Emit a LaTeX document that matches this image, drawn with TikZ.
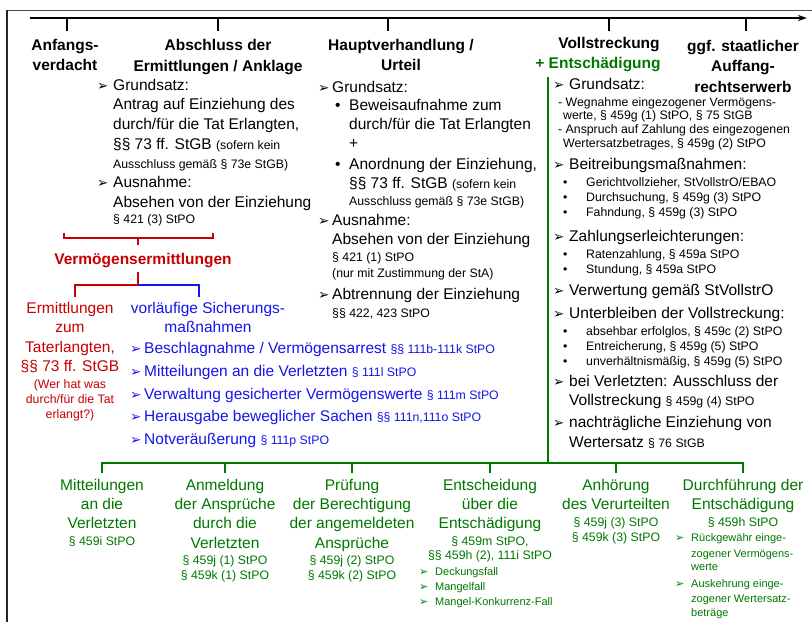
\documentclass[tikz,border=0pt]{standalone}
\usepackage{fontspec}
\setmainfont{Liberation Sans}
\newfontfamily\symfont{DejaVu Sans}
\usetikzlibrary{arrows.meta, positioning}

\definecolor{vermred}{RGB}{200, 0, 0}
\definecolor{vermblue}{RGB}{20, 20, 235}
\definecolor{vollgreen}{RGB}{0, 120, 0}

\newcommand{\fbig}{\fontsize{15.5}{19}\selectfont}
\newcommand{\fsm}{\fontsize{12.3}{15}\selectfont}
\newcommand{\fxs}{\fontsize{11}{13}\selectfont}
\newcommand{\pf}[1][16pt]{\makebox[#1][l]{\symfont\fontsize{13.5}{14}\selectfont ➢}}
\newcommand{\spf}{\makebox[16pt][l]{\symfont\fontsize{11}{11}\selectfont ➢}}
\newcommand{\bu}[1]{\makebox[#1][l]{•}}

\begin{document}
\begin{tikzpicture}[x=1pt, y=-1pt,
    txt/.style={font=\fbig, anchor=mid west, inner sep=0pt},
    ctr/.style={font=\fbig, anchor=mid, inner sep=0pt},
    head/.style={font=\fontsize{15.5}{20.5}\selectfont\bfseries, align=center, inner sep=0pt},
    tline/.style={line width=1.6pt},
    rline/.style={vermred, line width=1.6pt},
    bline/.style={vermblue, line width=1.6pt},
    gline/.style={vollgreen, line width=1.6pt},
  ]
  \useasboundingbox (0,0) rectangle (812,622);
  \draw[black!70, line width=1.2pt] (7,10.5) -- (812,10.5);
  \draw[black!85, line width=2pt] (6.5,10) -- (6.5,622);

  % Zeitstrahl
  \coordinate (zs) at (30,18);
  \coordinate (ze) at (807,18);
  \draw[tline, -{Stealth[length=9pt, width=6pt]}] (zs) -- (ze);
  \foreach \x in {67,218,388,609,746}
    \draw[tline] (\x,18) -- (\x,31);

  \node[head] (h1) at (65,55) {Anfangs-\\verdacht};
  \node[head] (h2) at (218,57) {Abschluss der\\Ermittlungen / Anklage};
  \node[head] (h3) at (401,55) {Hauptverhandlung /\\Urteil};
  \node[head] (h4) at (609,45) {Vollstreckung};
  \node[head, vollgreen] (h4b) at (598,65) {+ Entschädigung};
  \node[head] (h5) at (743,66) {ggf. staatlicher\\Auffang-\\rechtserwerb};

  % Abschluss der Ermittlungen
  \foreach \x/\y/\lbl [count=\i] in {
      97/88/{\pf Grundsatz:},
      113/107/{Antrag auf Einziehung des},
      113/127/{durch/für die Tat Erlangten,},
      113/147/{§§ 73 ff. StGB {\fsm (sofern kein}},
      113/166/{\fsm Ausschluss gemäß § 73e StGB)},
      97/185/{\pf Ausnahme:},
      113/205/{Absehen von der Einziehung},
      113/221/{\fsm § 421 (3) StPO}}
    \node[txt] (ab\i) at (\x,\y) {\lbl};

  % Hauptverhandlung
  \foreach \x/\y/\lbl [count=\i] in {
      318/90/{\pf[14pt]Grundsatz:},
      335/108/{\bu{14pt}Beweisaufnahme zum},
      349/127/{durch/für die Tat Erlangten},
      349/146/{+},
      335/167/{\bu{14pt}Anordnung der Einziehung,},
      349/186/{§§ 73 ff. StGB {\fsm (sofern kein}},
      349/203/{\fsm Ausschluss gemäß § 73e StGB)},
      318/223/{\pf[14pt]Ausnahme:},
      332/242/{Absehen von der Einziehung},
      332/259/{\fsm § 421 (1) StPO},
      332/275/{\fsm (nur mit Zustimmung der StA)},
      318/297/{\pf[14pt]Abtrennung der Einziehung},
      332/315/{\fsm §§ 422, 423 StPO}}
    \node[txt] (hv\i) at (\x,\y) {\lbl};

  % Vollstreckung
  \foreach \x/\y/\lbl [count=\i] in {
      553/87/{\pf Grundsatz:},
      558/104/{\fsm - Wegnahme eingezogener Vermögens-},
      563/117/{\fsm werte, § 459g (1) StPO, § 75 StGB},
      558/131/{\fsm - Anspruch auf Zahlung des eingezogenen},
      563/145/{\fsm Wertersatzbetrages, § 459g (2) StPO},
      553/167/{\pf Beitreibungsmaßnahmen:},
      563/184/{\fsm\bu{23pt}Gerichtvollzieher, StVollstrO/EBAO},
      563/199/{\fsm\bu{23pt}Durchsuchung, § 459g (3) StPO},
      563/214/{\fsm\bu{23pt}Fahndung, § 459g (3) StPO},
      553/239/{\pf Zahlungserleichterungen:},
      563/256/{\fsm\bu{23pt}Ratenzahlung, § 459a StPO},
      563/271/{\fsm\bu{23pt}Stundung, § 459a StPO},
      553/293/{\pf Verwertung gemäß StVollstrO},
      553/316/{\pf Unterbleiben der Vollstreckung:},
      563/333/{\fsm\bu{23pt}absehbar erfolglos, § 459c (2) StPO},
      563/348/{\fsm\bu{23pt}Entreicherung, § 459g (5) StPO},
      563/363/{\fsm\bu{23pt}unverhältnismäßig, § 459g (5) StPO},
      553/384/{\pf bei Verletzten: Ausschluss der},
      569/403/{Vollstreckung {\fsm § 459g (4) StPO}},
      553/425/{\pf nachträgliche Einziehung von},
      569/445/{Wertersatz {\fsm § 76 StGB}}}
    \node[txt] (vs\i) at (\x,\y) {\lbl};

  % Vermoegensermittlungen
  \coordinate (brl) at (64,233);
  \coordinate (brr) at (213,233);
  \coordinate (brm) at (138,238);
  \draw[rline] (brl) |- (brm) -| (brr);
  \draw[rline] (brm) -- ++(0,7);
  \node[head, vermred] (verm) at (143,261) {Vermögensermittlungen};
  \coordinate (vk) at (138,285);
  \draw[rline] (138,272) -- (vk) -- (75,285) -- (75,297);
  \draw[bline] (vk) -- (199,285) -- (199,297);

  \foreach \y/\lbl [count=\i] in {
      311/{Ermittlungen}, 330/{zum}, 350/{Taterlangten,},
      369/{§§ 73 ff. StGB}, 386/{\fsm (Wer hat was},
      401/{\fsm durch/für die Tat}, 416/{\fsm erlangt?)}}
    \node[ctr, vermred] (er\i) at (70,\y) {\lbl};

  \node[ctr, vermblue] (si1) at (208,311) {vorläufige Sicherungs-};
  \node[ctr, vermblue] (si2) at (208,330) {maßnahmen};
  \foreach \y/\lbl [count=\i] in {
      351/{Beschlagnahme / Vermögensarrest {\fsm §§ 111b-111k StPO}},
      374/{Mitteilungen an die Verletzten {\fsm § 111l StPO}},
      397/{Verwaltung gesicherter Vermögenswerte {\fsm § 111m StPO}},
      419/{Herausgabe beweglicher Sachen {\fsm §§ 111n,111o StPO}},
      442/{Notveräußerung {\fsm § 111p StPO}}}
    \node[txt, vermblue] (sm\i) at (130,\y) {\pf[14pt]\lbl};

  % Entschaedigung
  \foreach \y/\lbl [count=\i] in {
      488/{Mitteilungen}, 507/{an die}, 526/{Verletzten}, 543/{\fsm § 459i StPO}}
    \node[ctr, vollgreen] (b1-\i) at (102,\y) {\lbl};
  \foreach \y/\lbl [count=\i] in {
      488/{Anmeldung}, 507/{der Ansprüche}, 526/{durch die}, 546/{Verletzten},
      562/{\fsm § 459j (1) StPO}, 577/{\fsm § 459k (1) StPO}}
    \node[ctr, vollgreen] (b2-\i) at (225,\y) {\lbl};
  \foreach \y/\lbl [count=\i] in {
      488/{Prüfung}, 507/{der Berechtigung}, 526/{der angemeldeten}, 546/{Ansprüche},
      562/{\fsm § 459j (2) StPO}, 577/{\fsm § 459k (2) StPO}}
    \node[ctr, vollgreen] (b3-\i) at (352,\y) {\lbl};
  \foreach \y/\lbl [count=\i] in {
      488/{Entscheidung}, 507/{über die}, 526/{Entschädigung},
      543/{\fsm § 459m StPO,}, 557/{\fsm §§ 459h (2), 111i StPO}}
    \node[ctr, vollgreen] (b4-\i) at (490,\y) {\lbl};
  \foreach \y/\lbl [count=\i] in {
      573/{Deckungsfall}, 588/{Mangelfall}, 603/{Mangel-Konkurrenz-Fall}}
    \node[txt, vollgreen] (bf\i) at (419,\y) {\fxs\spf\lbl};
  \foreach \y/\lbl [count=\i] in {
      488/{Anhörung}, 507/{des Verurteilten},
      524/{\fsm § 459j (3) StPO}, 539/{\fsm § 459k (3) StPO}}
    \node[ctr, vollgreen] (b5-\i) at (616,\y) {\lbl};
  \foreach \y/\lbl [count=\i] in {
      488/{Durchführung der}, 507/{Entschädigung}, 524/{\fsm § 459h StPO}}
    \node[ctr, vollgreen] (b6-\i) at (743,\y) {\lbl};
  \foreach \x/\y/\lbl [count=\i] in {
      675/539/{\spf Rückgewähr einge-}, 691/555/{zogener Vermögens-}, 691/568/{werte},
      675/585/{\spf Auskehrung einge-}, 691/600/{zogener Wertersatz-}, 691/614/{beträge}}
    \node[txt, vollgreen] (bd\i) at (\x,\y) {\fxs\lbl};

  \coordinate (gtop) at (548,77);
  \coordinate (gbar) at (548,463);
  \draw[gline] (gtop) -- (gbar);
  \draw[gline] ([yshift=6pt]b1-1.north) -- (b1-1.north |- gbar)
    -- (b6-1.north |- gbar) -- ([yshift=6pt]b6-1.north);
  \foreach \b in {2,...,5}
    \draw[gline] (b\b-1.north |- gbar) -- ([yshift=6pt]b\b-1.north);
\end{tikzpicture}
\end{document}
